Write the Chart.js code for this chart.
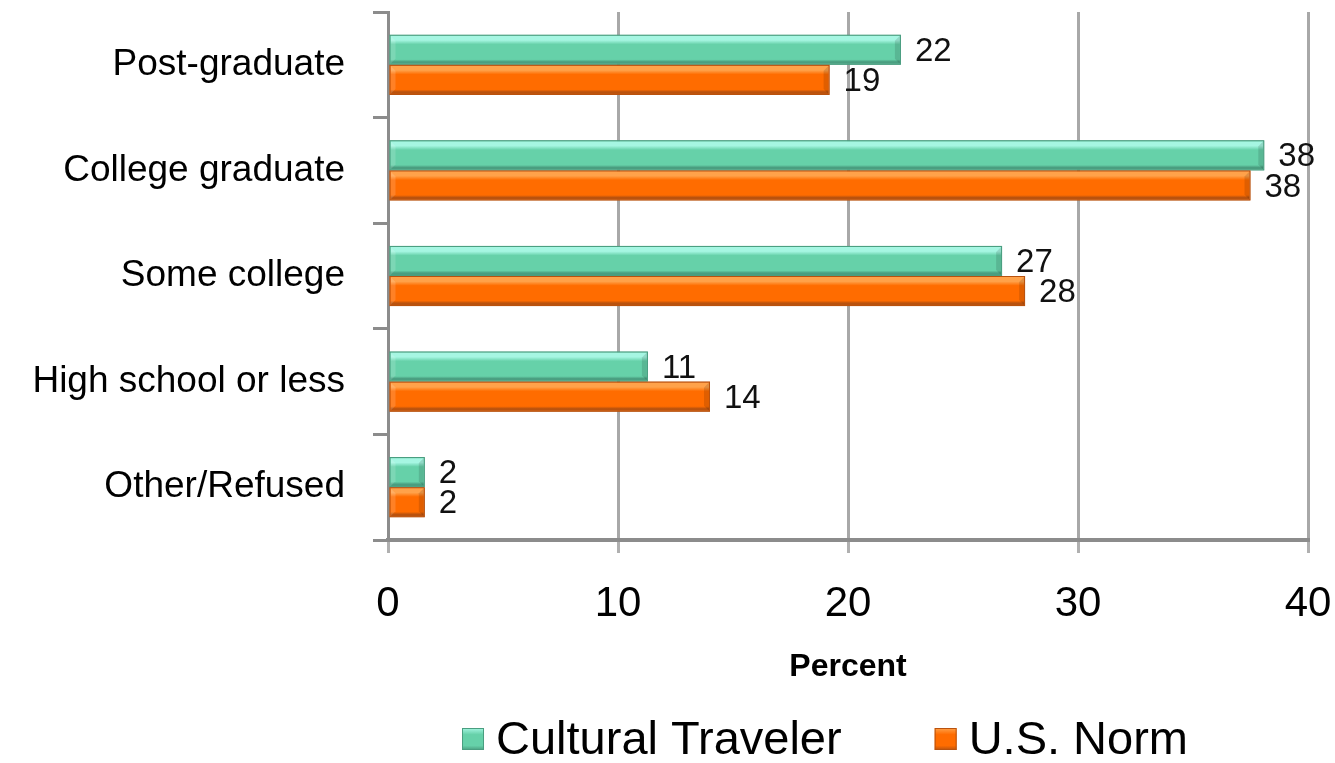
<!DOCTYPE html>
<html>
<head>
<meta charset="utf-8">
<script src="https://cdn.jsdelivr.net/npm/chart.js@4.4.1/dist/chart.umd.min.js"></script>
<style>
  html, body { margin: 0; padding: 0; background: #ffffff; }
  #wrap { width: 1335px; height: 763px; position: relative; }
</style>
</head>
<body>
<div id="wrap"><canvas id="c" width="1335" height="763"></canvas></div>
<script>
const categories = ['Post-graduate', 'College graduate', 'Some college', 'High school or less', 'Other/Refused'];
const culturalTraveler = [22.3, 38.1, 26.7, 11.3, 1.6];
const usNorm = [19.2, 37.5, 27.7, 14.0, 1.6];
const xTicks = [0, 10, 20, 30, 40];
const seriesNames = ['Cultural Traveler', 'U.S. Norm'];

const FONT = "'Liberation Sans', Arial, Helvetica, sans-serif";
const TEAL = '#66d1a9', TEAL_DARK = '#4a9e80', TEAL_LIGHT = '#a6f6e2';
const ORANGE = '#ff6c00', ORANGE_DARK = '#b9520e', ORANGE_LIGHT = '#ffa24a';

function noPad(scale) {
  scale.paddingTop = 0; scale.paddingBottom = 0;
  scale.paddingLeft = 0; scale.paddingRight = 0;
}

const bevelPlugin = {
  id: 'bevel',
  afterDatasetsDraw(chart) {
    const ctx = chart.ctx;
    chart.data.datasets.forEach((ds, di) => {
      const meta = chart.getDatasetMeta(di);
      const light = ds._light, dark = ds._dark;
      meta.data.forEach(el => {
        const x0 = Math.min(el.base, el.x), x1 = Math.max(el.base, el.x);
        const h = el.height, top = el.y - h / 2, bot = el.y + h / 2;
        const w = x1 - x0;
        ctx.save();
        const g = ctx.createLinearGradient(0, top, 0, bot);
        g.addColorStop(0, light);
        g.addColorStop(0.18, light);
        g.addColorStop(0.32, ds.backgroundColor);
        g.addColorStop(0.82, ds.backgroundColor);
        g.addColorStop(0.9, dark);
        g.addColorStop(1, dark);
        ctx.fillStyle = g;
        ctx.fillRect(x0 + 1, top + 1, w - 2, h - 2);
        const bw = Math.min(5, w / 3);
        ctx.fillStyle = 'rgba(0,0,0,0.12)';
        ctx.beginPath();
        ctx.moveTo(x1 - 1, top + 1);
        ctx.lineTo(x1 - 1 - bw, top + 1 + bw);
        ctx.lineTo(x1 - 1 - bw, bot - 1 - bw);
        ctx.lineTo(x1 - 1, bot - 1);
        ctx.closePath();
        ctx.fill();
        ctx.fillStyle = 'rgba(255,255,255,0.15)';
        ctx.beginPath();
        ctx.moveTo(x0 + 1, top + 1);
        ctx.lineTo(x0 + 1 + bw, top + 1 + bw);
        ctx.lineTo(x0 + 1 + bw, bot - 1 - bw);
        ctx.lineTo(x0 + 1, bot - 1);
        ctx.closePath();
        ctx.fill();
        ctx.strokeStyle = dark;
        ctx.lineWidth = 1;
        ctx.strokeRect(x0 + 0.5, top + 0.5, w - 1, h - 1);
        ctx.restore();
      });
    });
  }
};

const valueLabelPlugin = {
  id: 'valueLabels',
  afterDraw(chart) {
    const ctx = chart.ctx;
    ctx.save();
    ctx.font = '33px ' + FONT;
    ctx.fillStyle = '#111';
    ctx.textAlign = 'left';
    ctx.textBaseline = 'middle';
    chart.data.datasets.forEach((ds, di) => {
      const meta = chart.getDatasetMeta(di);
      meta.data.forEach((el, i) => {
        ctx.fillText(String(Math.round(ds.data[i])), el.x + 14, el.y + 2);
      });
    });
    ctx.restore();
  }
};

const legendPlugin = {
  id: 'customLegend',
  afterDraw(chart) {
    const ctx = chart.ctx;
    const area = chart.chartArea;
    ctx.save();
    ctx.font = '47px ' + FONT;
    ctx.textBaseline = 'middle';
    ctx.textAlign = 'left';
    const box = 22, gap = 12, itemGap = 93;
    const widths = chart.data.datasets.map(ds => box + gap + ctx.measureText(ds.label).width);
    const total = widths.reduce((a, b) => a + b, 0) + itemGap * (widths.length - 1);
    let x = (area.left + area.right) / 2 - 23 - total / 2;
    const cy = 739;
    chart.data.datasets.forEach((ds, di) => {
      const top = cy - box / 2;
      const g = ctx.createLinearGradient(0, top, 0, top + box);
      g.addColorStop(0, ds._light);
      g.addColorStop(0.3, ds.backgroundColor);
      g.addColorStop(0.8, ds.backgroundColor);
      g.addColorStop(1, ds._dark);
      ctx.fillStyle = g;
      ctx.fillRect(x, top, box, box);
      ctx.strokeStyle = ds._dark;
      ctx.lineWidth = 1;
      ctx.strokeRect(x + 0.5, top + 0.5, box - 1, box - 1);
      ctx.fillStyle = '#000';
      ctx.fillText(ds.label, x + box + gap, cy + 2);
      x += widths[di] + itemGap;
    });
    ctx.restore();
  }
};

new Chart(document.getElementById('c'), {
  type: 'bar',
  data: {
    labels: categories,
    datasets: [
      { label: seriesNames[0], data: culturalTraveler, backgroundColor: TEAL, borderColor: TEAL_DARK, borderWidth: 1, _light: TEAL_LIGHT, _dark: TEAL_DARK },
      { label: seriesNames[1], data: usNorm, backgroundColor: ORANGE, borderColor: ORANGE_DARK, borderWidth: 1, _light: ORANGE_LIGHT, _dark: ORANGE_DARK }
    ]
  },
  options: {
    indexAxis: 'y',
    responsive: false,
    animation: false,
    devicePixelRatio: 1,
    layout: { padding: { top: 12, right: 27, bottom: 70, left: 0 } },
    datasets: { bar: { categoryPercentage: 0.57, barPercentage: 1.0 } },
    plugins: {
      legend: { display: false },
      tooltip: { enabled: false }
    },
    scales: {
      x: {
        type: 'linear',
        min: xTicks[0],
        max: xTicks[xTicks.length - 1],
        afterBuildTicks(scale) { scale.ticks = xTicks.map(v => ({ value: v })); },
        afterFit(scale) { scale.height = 763 - 540 - 70; noPad(scale); },
        grid: { color: '#a8a8a8', lineWidth: 3, drawTicks: true, tickLength: 13, tickColor: '#b0b0b0' },
        border: { color: '#8c8c8c', width: 4 },
        ticks: { font: { family: FONT, size: 42 }, color: '#000', padding: 26 },
        title: { display: true, text: 'Percent', font: { family: FONT, size: 32, weight: 'bold' }, color: '#000', padding: { top: 0, bottom: 7 } }
      },
      y: {
        afterFit(scale) { scale.width = 388; noPad(scale); },
        grid: { offset: true, drawOnChartArea: false, drawTicks: true, tickLength: 15, color: '#8c8c8c', lineWidth: 3 },
        border: { color: '#8c8c8c', width: 3 },
        ticks: { font: { family: FONT, size: 37 }, color: '#000', padding: 28 }
      }
    }
  },
  plugins: [bevelPlugin, valueLabelPlugin, legendPlugin]
});
</script>
</body>
</html>
